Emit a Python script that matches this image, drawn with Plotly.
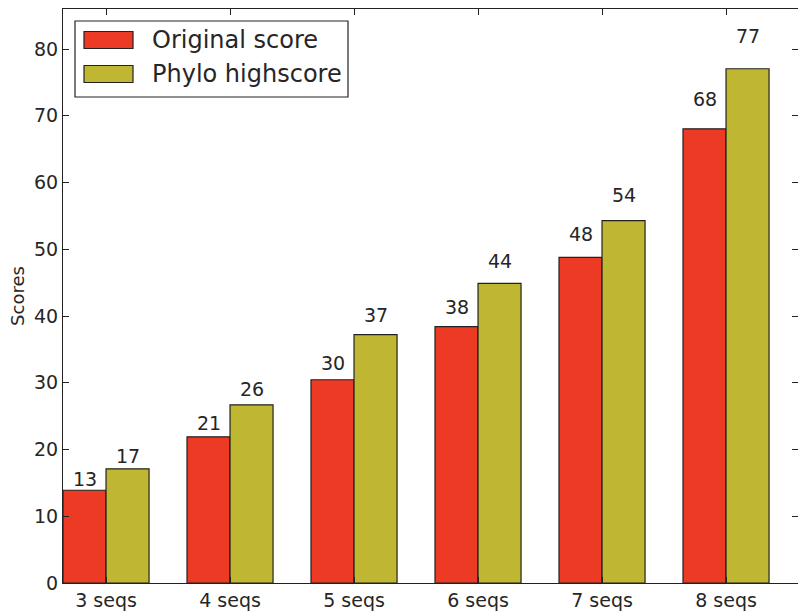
import plotly.graph_objects as go

categories = ["3 seqs", "4 seqs", "5 seqs", "6 seqs", "7 seqs", "8 seqs"]
original_score = [13.9, 21.9, 30.45, 38.4, 48.8, 68.05]
phylo_highscore = [17.1, 26.7, 37.2, 44.9, 54.3, 77.05]
series_names = ["Original score", "Phylo highscore"]
colors = ["#EC3A24", "#BFB732"]

W, H = 798, 611
L, T, B = 63, 9, 611 - 583
bw = 0.347
idx = list(range(len(categories)))

fig = go.Figure()
for k, (vals, name, col) in enumerate(zip([original_score, phylo_highscore], series_names, colors)):
    off = -bw / 2 if k == 0 else bw / 2
    fig.add_trace(go.Bar(
        x=[i + off for i in idx], y=vals, width=bw, name=name,
        marker=dict(color=col, line=dict(color="#222222", width=1.2)),
        showlegend=False,
    ))
    for i, v in zip(idx, vals):
        fig.add_annotation(x=i + off, y=v * 1.05, text=str(int(v)), showarrow=False,
                           xref="x", yref="y", yanchor="bottom", yshift=-6,
                           font=dict(family="DejaVu Sans", size=19, color="#262626"))

# manual legend (matplotlib-style), positions given in window pixels
pw, ph = W - L, H - T - B
def px(x):
    return (x - L) / pw
def py(y):
    return (H - B - y) / ph

shapes = [dict(type="rect", xref="paper", yref="paper", x0=px(75), x1=px(348), y0=py(97), y1=py(21),
               line=dict(color="#222222", width=1.2), fillcolor="white", layer="above")]
for k, (name, col, yc) in enumerate(zip(series_names, colors, [40, 74])):
    shapes.append(dict(type="rect", xref="paper", yref="paper", x0=px(84), x1=px(133),
                       y0=py(yc + 8.5), y1=py(yc - 8.5), line=dict(color="#222222", width=1.2),
                       fillcolor=col, layer="above"))
    fig.add_annotation(x=px(150), y=py(yc), xref="paper", yref="paper", text=name, showarrow=False,
                       xanchor="left", yanchor="middle",
                       font=dict(family="DejaVu Sans", size=24, color="#262626"))

fig.update_layout(
    width=W, height=H, margin=dict(l=L, r=0, t=T, b=B),
    plot_bgcolor="white", paper_bgcolor="white", barmode="overlay",
    shapes=shapes,
    font=dict(family="DejaVu Sans", color="#262626"),
)
fig.update_xaxes(range=[-bw, -bw + (W - L) / 124.0], tickvals=idx, ticktext=categories,
                 showgrid=False, zeroline=False,
                 showline=True, linecolor="#222222", linewidth=1.2, mirror="ticks", automargin=False,
                 ticks="inside", ticklen=6, tickcolor="#222222", tickfont=dict(size=19))
fig.update_yaxes(range=[0, 86], dtick=10, showgrid=False, zeroline=False,
                 showline=True, linecolor="#222222", linewidth=1.2, mirror="ticks", automargin=False,
                 ticks="inside", ticklen=6, tickcolor="#222222", tickfont=dict(size=19),
                 title=dict(text="Scores", font=dict(size=18), standoff=4))

fig.write_html("out.html", config={"displayModeBar": False},
               post_script="document.body.style.margin='0';document.body.style.overflow='hidden';")
